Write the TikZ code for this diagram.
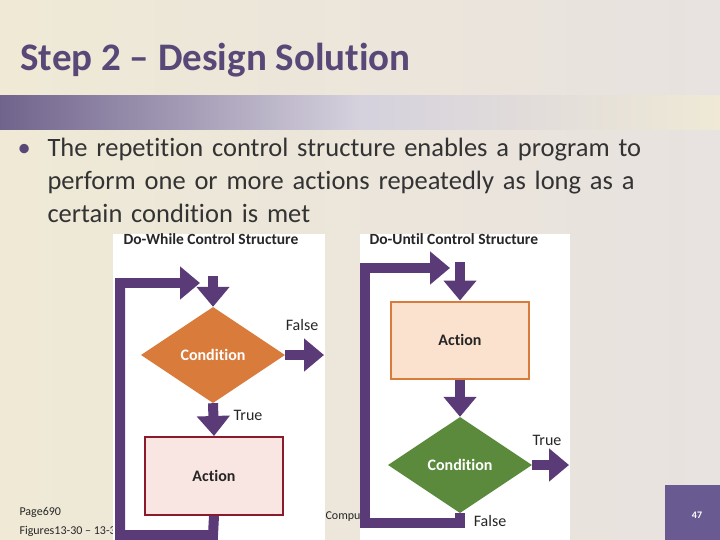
\documentclass[tikz,border=0pt]{standalone}
\usepackage{fontspec}
\setmainfont[Ligatures=NoCommon]{Carlito}
\usetikzlibrary{shapes.geometric,arrows.meta}
\definecolor{bgc}{HTML}{EFE9D6}
\definecolor{bgr}{HTML}{E8E2E0}
\definecolor{ttl}{HTML}{574878}
\definecolor{loop}{HTML}{5B3A78}
\definecolor{orng}{HTML}{D97B3A}
\definecolor{grn}{HTML}{5B8A3C}
\definecolor{pinkf}{HTML}{F9E6E2}
\definecolor{redb}{HTML}{8B1A2A}
\definecolor{peach}{HTML}{FAE2CF}
\definecolor{pgbox}{HTML}{6A5A92}
\tikzset{
  flow/.style={draw=loop,line width=10pt,-{Triangle[length=20pt,width=32pt]}},
  flowline/.style={draw=loop,line width=10pt},
  cond/.style={diamond,aspect=1.5,minimum width=144pt,minimum height=96pt,inner sep=0pt,text=white,font=\bfseries\fontsize{16}{18}\selectfont},
  act/.style={rectangle,line width=2pt,minimum width=138pt,minimum height=78pt,font=\bfseries\fontsize{16}{18}\selectfont,text=black!85},
  lbl/.style={font=\fontsize{16}{18}\selectfont,text=black!85},
  ptitle/.style={font=\bfseries\fontsize{15.5}{18}\selectfont,text=black!85,anchor=north west},
  foot/.style={font=\fontsize{12}{14}\selectfont,text=black!85,anchor=west}
}
\begin{document}
\begin{tikzpicture}[x=1pt,y=-1pt]
\useasboundingbox (0,0) rectangle (720,540);
\shade[left color=bgc,right color=bgr] (0,0) rectangle (720,540);
\shade[left color=ttl!85,right color=bgc,middle color=ttl!25] (0,96) rectangle (720,130);
\node[anchor=base west,text=ttl,font=\bfseries\fontsize{39}{40}\selectfont] (title) at (17,71) {Step 2 – Design Solution};
\node[anchor=base west,text=black!80,font=\fontsize{26.5}{33}\selectfont,align=left,text width=700pt] (bul) at (14,157) {\makebox[30pt][l]{\textcolor{ttl}{•}}The repetition control structure enables a program to\\\hspace*{30pt}perform one or more actions repeatedly as long as a\\\hspace*{30pt}certain condition is met};
\node[foot] (pg) at (16,512) {Page690};
\node[foot] (fig) at (16,531) {Figures13-30 – 13-31};
\node[foot] (cmp) at (322,517) {Computer Concepts};
% panels
\fill[white] (113,234) rectangle (325,540);
\fill[white] (360,234) rectangle (570,540);
\node[ptitle] (t1) at (120,230) {Do-While Control Structure};
\node[ptitle] (t2) at (366,230) {Do-Until Control Structure};
% left
\node[cond,fill=orng] (c1) at (213,355) {Condition};
\node[act,draw=redb,fill=pinkf] (a1) at (214,476) {Action};
\coordinate (e1) at (213,276);
\draw[flow] (e1) -- (c1.north);
\draw[flow] (c1.east) -- (324,355);
\draw[flow] (c1.south) -- (a1.north);
\draw[flowline] (a1.south) -- (213,535) -- (120,535) -- (120,283);
\draw[flow] (115,283) -- (200,283);
\node[lbl] (f1) at (302,325) {False};
\node[lbl] (tr1) at (248,415) {True};
% right
\node[act,draw=orng,fill=peach,minimum height=77pt] (a2) at (460,340) {Action};
\node[cond,fill=grn] (c2) at (460,465) {Condition};
\coordinate (e2) at (460,262);
\draw[flow] (e2) -- (a2.north);
\draw[flow] (a2.south) -- (c2.north);
\draw[flow] (c2.east) -- (569,465);
\draw[flowline] (c2.south) -- (460,523) -- (365,523) -- (365,268);
\draw[flow] (360,268) -- (450,268);
\node[lbl] (tr2) at (547,440) {True};
\node[lbl] (f2) at (490,521) {False};
% page box
\fill[pgbox] (665,485) rectangle (720,540);
\node[text=white,font=\bfseries\fontsize{10}{12}\selectfont] (num) at (697,515) {47};
\end{tikzpicture}
\end{document}
